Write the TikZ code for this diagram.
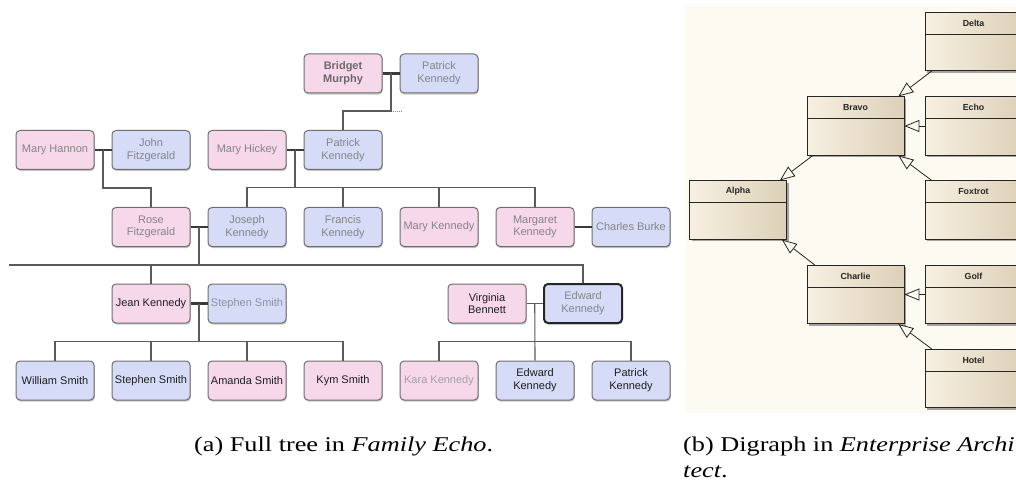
\documentclass[tikz,border=0pt]{standalone}
\usepackage{fontspec}
\usepackage{graphicx}
\setmainfont{Liberation Serif}
\newfontfamily\boxfont{Liberation Sans}
\usetikzlibrary{calc,shadows,arrows.meta}

\definecolor{femfill}{HTML}{F7D7EA}
\definecolor{malefill}{HTML}{D6DCF8}
\definecolor{boxedge}{HTML}{6E6E6E}
\definecolor{greytext}{HTML}{858585}
\definecolor{boldgrey}{HTML}{6A6A6A}
\definecolor{stephgrey}{HTML}{8E91A2}
\definecolor{palegrey}{HTML}{A2A2A2}
\definecolor{darktext}{HTML}{1E1E1E}
\definecolor{linecol}{HTML}{5A5A5A}
\definecolor{couplecol}{HTML}{3A3A3A}
\definecolor{canvas}{HTML}{FDFAF1}
\definecolor{classlight}{HTML}{F7F0E2}
\definecolor{classdark}{HTML}{DDD0B8}

\tikzset{
  person/.style={draw=boxedge, line width=1pt, rounded corners=4pt,
    minimum width=78pt, minimum height=39pt, inner sep=1pt, align=center,
    font=\boxfont\fontsize{11}{12.7}\selectfont, text=greytext,
    drop shadow={shadow xshift=0.8pt, shadow yshift=-1.6pt, opacity=0.22, fill=black}},
  fem/.style={person, fill=femfill},
  mal/.style={person, fill=malefill},
  boldname/.style={font=\boxfont\bfseries\fontsize{11}{12.7}\selectfont, text=boldgrey},
  focus/.style={draw=black!85, line width=2pt},
  tline/.style={draw=linecol, line width=1.1pt},
  couple/.style={draw=couplecol, line width=2.4pt},
  thincouple/.style={draw=linecol, line width=1.1pt},
  classbox/.style={draw=black!85, line width=0.7pt, minimum width=97pt,
    minimum height=58.5pt, inner sep=0pt, left color=classlight, right color=classdark,
    drop shadow={shadow xshift=2.2pt, shadow yshift=-2.2pt, opacity=0.5, fill=black!70}},
  classtitle/.style={font=\boxfont\bfseries\fontsize{8.8}{10}\selectfont, text=black!85},
  classrule/.style={draw=black!85, line width=0.7pt},
  openhead/.tip={Triangle[length=15pt, width=12pt, fill=canvas, line width=0.8pt]},
  inherit/.style={draw=black!85, line width=0.8pt, -openhead},
  caption/.style={anchor=base west, inner sep=0pt, font=\fontsize{21}{25}\selectfont}
}

\begin{document}
\begin{tikzpicture}[x=1pt, y=-1pt]
\useasboundingbox (0,0) rectangle (1016,486);
\clip (0,0) rectangle (1016,486);
\fill[white] (0,0) rectangle (1016,486);

% ---------- family tree ----------
\node[fem, boldname] (bridget) at (343,73.5) {Bridget\\Murphy};
\node[mal] (pk1) at (439,73.5) {Patrick\\Kennedy};

\node[fem] (mhannon) at (55,150) {Mary Hannon};
\node[mal] (jfitz) at (151,150) {John\\Fitzgerald};
\node[fem] (mhickey) at (247,150) {Mary Hickey};
\node[mal] (pk2) at (343,150) {Patrick\\Kennedy};

\node[fem] (rose) at (151,227) {Rose\\Fitzgerald};
\node[mal] (joseph) at (247,227) {Joseph\\Kennedy};
\node[mal] (francis) at (343,227) {Francis\\Kennedy};
\node[fem] (maryk) at (439,227) {Mary Kennedy};
\node[fem] (margaret) at (535,227) {Margaret\\Kennedy};
\node[mal] (charles) at (631,227) {Charles Burke};

\node[fem, text=darktext] (jean) at (151,303.5) {Jean Kennedy};
\node[mal, text=stephgrey] (stephen) at (247,303.5) {Stephen Smith};
\node[fem, text=darktext] (virginia) at (487,303.5) {Virginia\\Bennett};
\node[mal, focus] (edward) at (583,303.5) {Edward\\Kennedy};

\node[mal, text=darktext] (william) at (55,380.5) {William Smith};
\node[mal, text=darktext] (stephenjr) at (151,380.5) {Stephen Smith};
\node[fem, text=darktext] (amanda) at (247,380.5) {Amanda Smith};
\node[fem, text=darktext] (kym) at (343,380.5) {Kym Smith};
\node[fem, text=palegrey] (kara) at (439,380.5) {Kara Kennedy};
\node[mal, text=darktext] (edwardjr) at (535,380.5) {Edward\\Kennedy};
\node[mal, text=darktext] (patrickjr) at (631,380.5) {Patrick\\Kennedy};

% couple joints
\coordinate (u1) at ($(bridget.east)!0.5!(pk1.west)$);
\coordinate (u2) at ($(mhannon.east)!0.5!(jfitz.west)$);
\coordinate (u3) at ($(mhickey.east)!0.5!(pk2.west)$);
\coordinate (u4) at ($(rose.east)!0.5!(joseph.west)$);
\coordinate (u5) at ($(jean.east)!0.5!(stephen.west)$);
\coordinate (u6) at ($(virginia.east)!0.5!(edward.west)$);
\coordinate (barend) at (9,265);

% marriages
\draw[couple] (bridget.east) -- (pk1.west);
\draw[couple] (mhannon.east) -- (jfitz.west);
\draw[couple] (mhickey.east) -- (pk2.west);
\draw[couple] (rose.east) -- (joseph.west);
\draw[couple] (margaret.east) -- (charles.west);
\draw[couple] (jean.east) -- (stephen.west);
\draw[thincouple] (virginia.east) -- (edward.west);

% descent lines
\draw[tline] (u1) -- ++(0,37.5) -| (pk2.north);
\draw[draw=linecol!70, line width=0.8pt, dash pattern=on 1pt off 1pt] ($(u1)+(1.5,37.5)$) -- ++(10,0);
\draw[tline] (u2) -- ++(0,38) -| (rose.north);
\draw[tline] (u3) -- ++(0,38);
\draw[tline] (joseph.north) -- ++(0,-19.5) -| (margaret.north);
\draw[tline] (francis.north) -- ++(0,-19.5);
\draw[tline] (maryk.north) -- ++(0,-19.5);
\draw[tline] (u4) -- ++(0,38);
\draw[tline] (barend) -| (edward.north);
\draw[tline] (jean.north) -- ++(0,-19);
\draw[tline] (u5) -- ++(0,38.5);
\draw[tline] (william.north) -- ++(0,-19) -| (kym.north);
\draw[tline] (stephenjr.north) -- ++(0,-19);
\draw[tline] (amanda.north) -- ++(0,-19);
\draw[tline] (u6) -- (edwardjr.north);
\draw[tline] (kara.north) -- ++(0,-19) -| (patrickjr.north);

% ---------- class digraph ----------
\fill[canvas] (686,6) rectangle (1016,413);

\node[classbox] (alpha) at (738,210) {};
\node[classbox] (bravo) at (855.5,126) {};
\node[classbox] (charlie) at (855.5,294.5) {};
\node[classbox] (delta) at (973.5,41.5) {};
\node[classbox] (echo) at (973.5,126) {};
\node[classbox] (foxtrot) at (973.5,210) {};
\node[classbox] (golf) at (973.5,294.5) {};
\node[classbox] (hotel) at (973.5,378.5) {};

\foreach \c/\t in {alpha/Alpha, bravo/Bravo, charlie/Charlie, delta/Delta,
                   echo/Echo, foxtrot/Foxtrot, golf/Golf, hotel/Hotel}{
  \draw[classrule] ($(\c.north west)+(0,22)$) -- ($(\c.north east)+(0,22)$);
  \node[classtitle] (\c-title) at ($(\c.north)+(0,11)$) {\t};
}

\draw[inherit] ($(delta.south west)+(7,0)$) -- ($(bravo.north east)+(-6,0)$);
\draw[inherit] (echo.west) -- (bravo.east);
\draw[inherit] ($(foxtrot.north west)+(7,0)$) -- ($(bravo.south east)+(-6,0)$);
\draw[inherit] ($(bravo.south west)+(6,0)$) -- ($(alpha.north east)+(-7,0)$);
\draw[inherit] ($(charlie.north west)+(8,0)$) -- ($(alpha.south east)+(-5,0)$);
\draw[inherit] (golf.west) -- (charlie.east);
\draw[inherit] ($(hotel.north west)+(7,0)$) -- ($(charlie.south east)+(-6,0)$);

% ---------- captions ----------
\node[caption] (capa) at (194,451) {\scalebox{1.25}[1]{(a) Full tree in \textit{Family Echo}.}};
\node[caption] (capb) at (683,451) {\scalebox{1.25}[1]{(b) Digraph in \textit{Enterprise Archi}}};
\node[caption] (capb2) at (683,477) {\scalebox{1.25}[1]{\textit{tect}.}};
\end{tikzpicture}
\end{document}
